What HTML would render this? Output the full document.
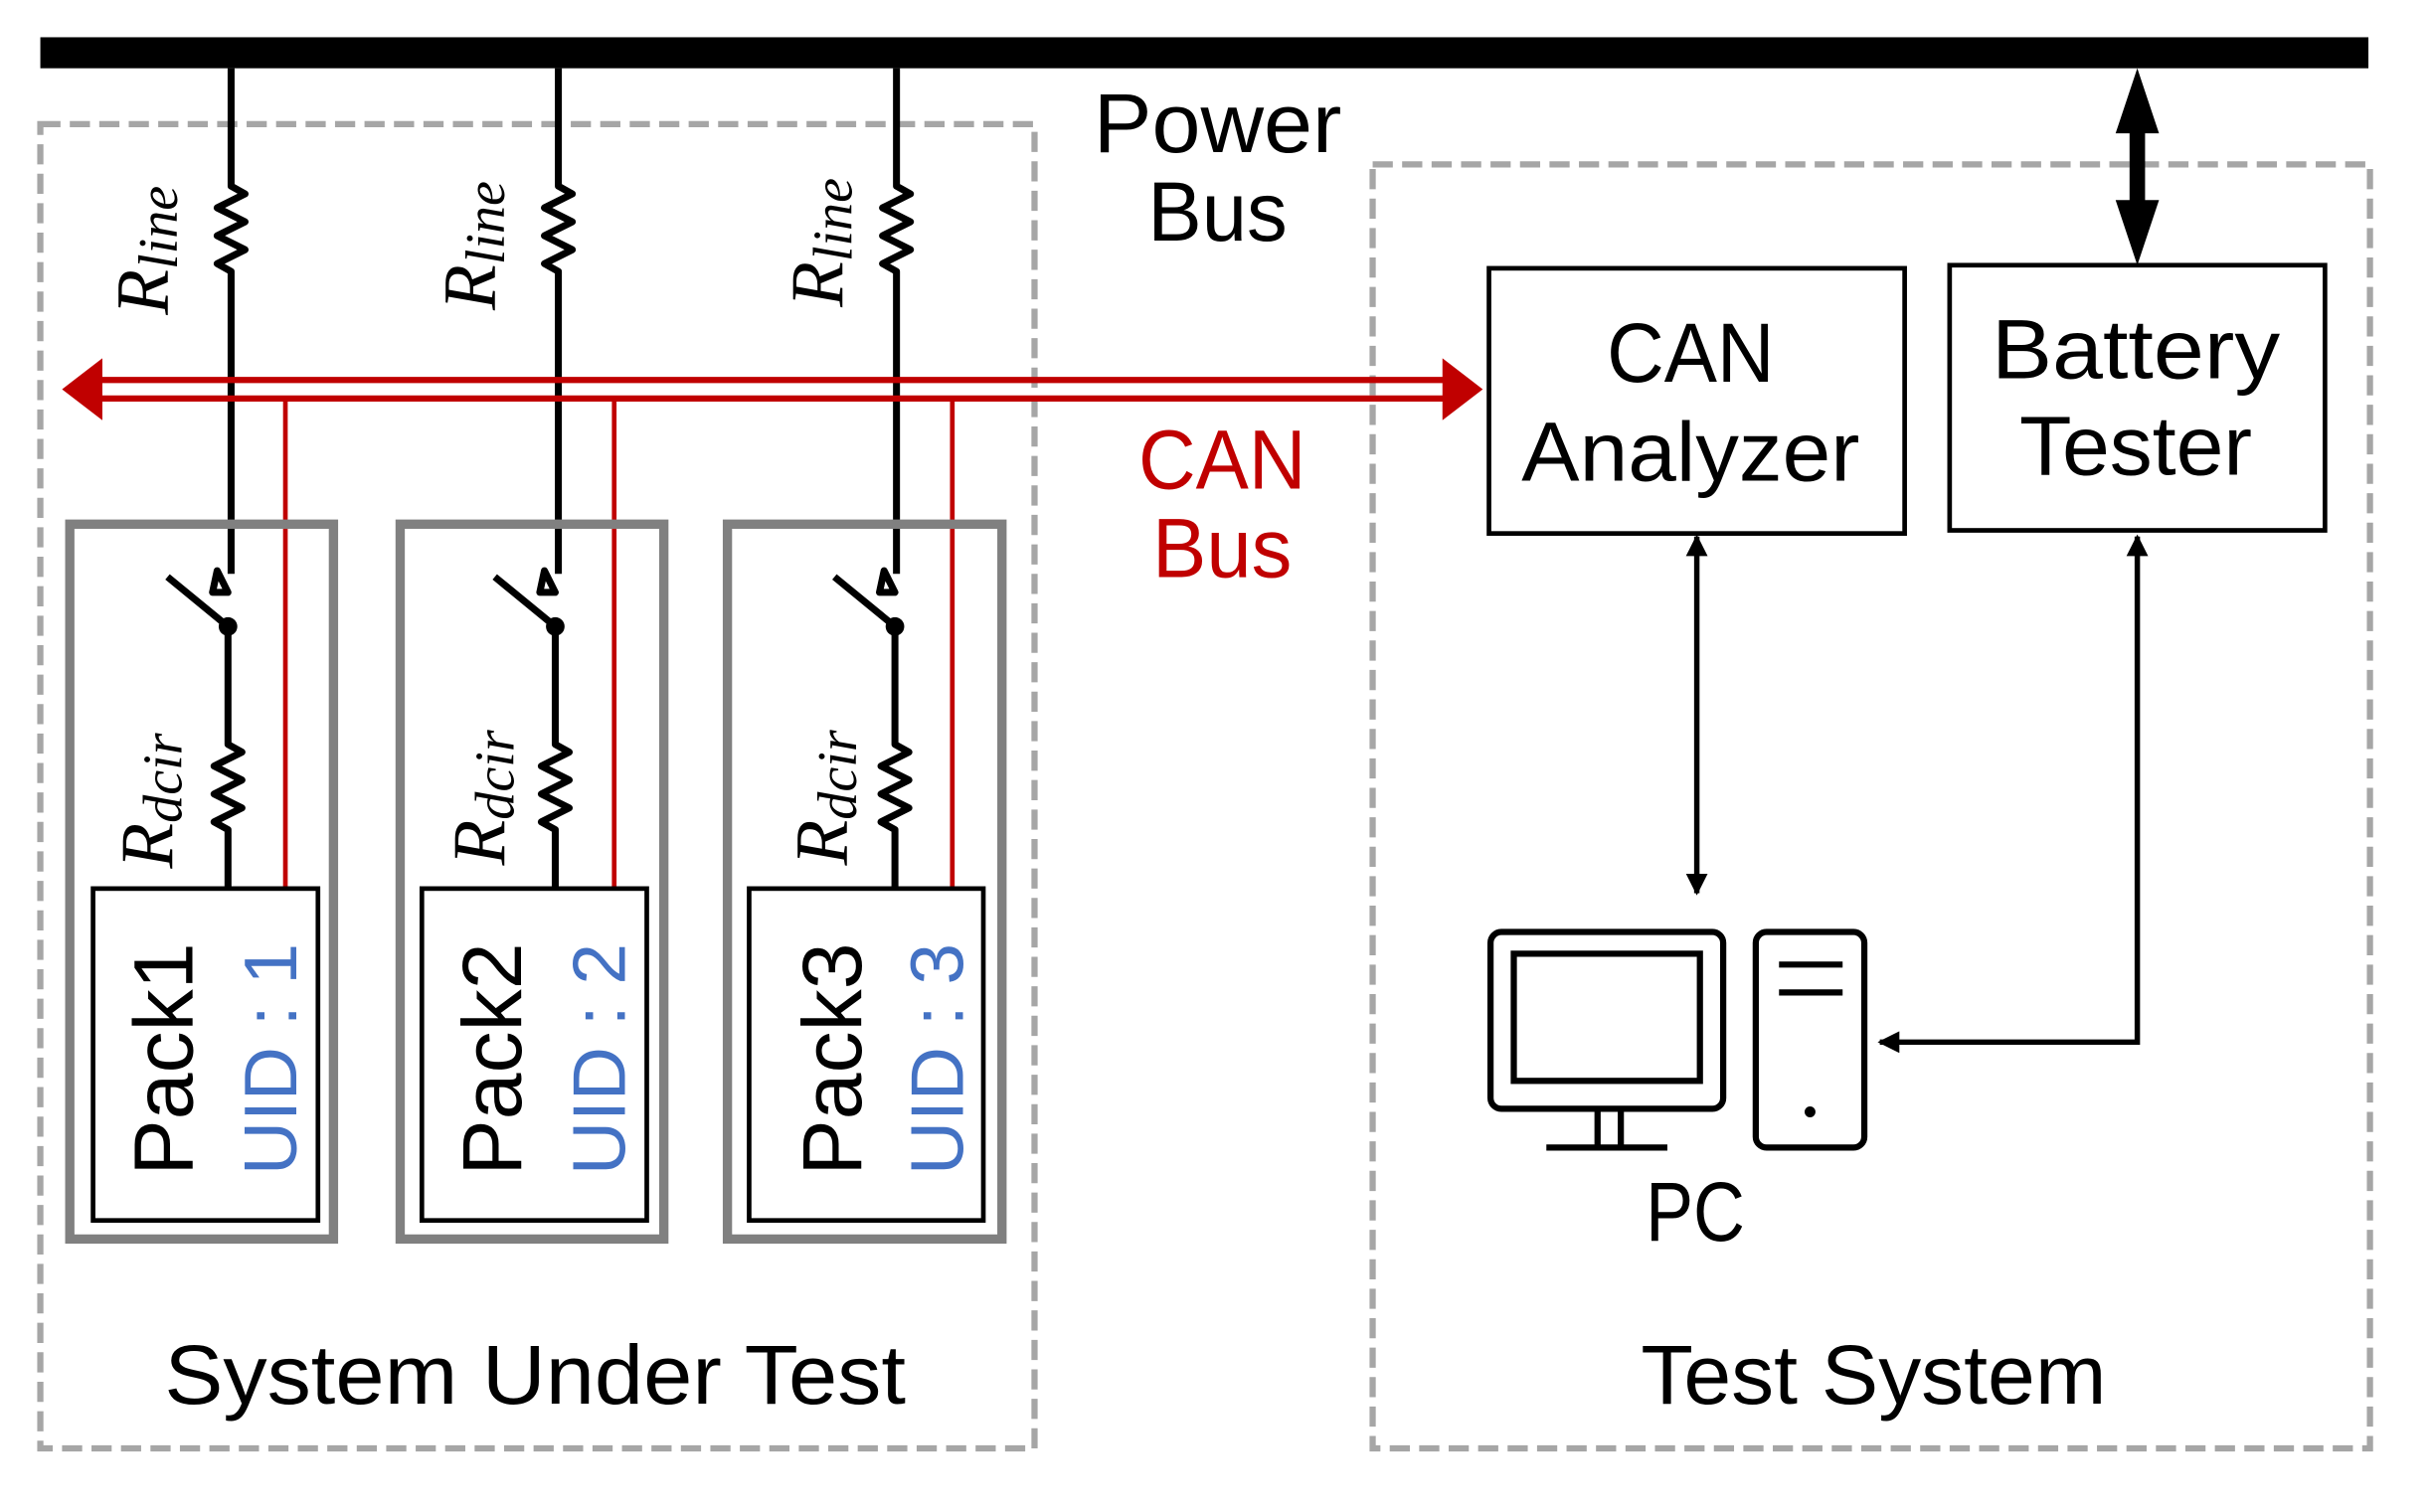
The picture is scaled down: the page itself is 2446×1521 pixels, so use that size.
<!DOCTYPE html>
<html><head><meta charset="utf-8"><style>html,body{margin:0;padding:0;background:#fff}svg{display:block}</style></head>
<body>
<svg width="2446" height="1521" viewBox="0 0 1568 975" xmlns="http://www.w3.org/2000/svg" font-family="Liberation Sans, sans-serif">
<defs>
<marker id="ah" viewBox="0 0 10 10" refX="9" refY="5" markerWidth="14" markerHeight="14" orient="auto-start-reverse" markerUnits="userSpaceOnUse"><path d="M0,0L10,5L0,10z" fill="#000"/></marker>
</defs>
<rect x="26" y="24" width="1501" height="20" fill="#000"/>
<rect x="26" y="80" width="641" height="854" fill="none" stroke="#a6a6a6" stroke-width="4" stroke-dasharray="13,6"/>
<rect x="885" y="106" width="643" height="828" fill="none" stroke="#a6a6a6" stroke-width="4" stroke-dasharray="13,6"/>
<g font-size="54" text-anchor="middle">
<text x="785" y="98" textLength="160" lengthAdjust="spacingAndGlyphs">Power</text>
<text x="785" y="155" textLength="90" lengthAdjust="spacingAndGlyphs">Bus</text>
<text x="788" y="315" fill="#c00000" textLength="108" lengthAdjust="spacingAndGlyphs">CAN</text>
<text x="788" y="372" fill="#c00000" textLength="90" lengthAdjust="spacingAndGlyphs">Bus</text>
<text x="1090" y="246" textLength="108" lengthAdjust="spacingAndGlyphs">CAN</text>
<text x="1090" y="310" textLength="218" lengthAdjust="spacingAndGlyphs">Analyzer</text>
<text x="1377" y="244" textLength="186" lengthAdjust="spacingAndGlyphs">Battery</text>
<text x="1377" y="306" textLength="150" lengthAdjust="spacingAndGlyphs">Tester</text>
<text x="1093" y="800" textLength="64" lengthAdjust="spacingAndGlyphs">PC</text>
<text x="345" y="905" textLength="478" lengthAdjust="spacingAndGlyphs">System Under Test</text>
<text x="1208" y="905" textLength="300" lengthAdjust="spacingAndGlyphs">Test System</text>
</g>
<g fill="none" stroke="#000" stroke-width="4.5" stroke-linejoin="round">
<path d="M149,44V120 l9,5 -18,9 18,9 -18,9 18,9 -18,9 9,5 V370"/>
<path d="M360,44V120 l9,5 -18,9 18,9 -18,9 18,9 -18,9 9,5 V370"/>
<path d="M578,44V120 l9,5 -18,9 18,9 -18,9 18,9 -18,9 9,5 V370"/>
<path d="M147,404V480 l9,5 -18,9 18,9 -18,9 18,9 -18,9 9,5 V573"/>
<path d="M358,404V480 l9,5 -18,9 18,9 -18,9 18,9 -18,9 9,5 V573"/>
<path d="M577,404V480 l9,5 -18,9 18,9 -18,9 18,9 -18,9 9,5 V573"/>
<path d="M108,372L147,404M140,368l7,14h-10z"/>
<path d="M319,372L358,404M351,368l7,14h-10z"/>
<path d="M538,372L577,404M570,368l7,14h-10z"/>
</g>
<circle cx="147" cy="404" r="6"/><circle cx="358" cy="404" r="6"/><circle cx="577" cy="404" r="6"/>
<g font-family="Liberation Serif, serif" font-style="italic" font-size="48">
<text transform="translate(108,203) rotate(-90)">R<tspan font-size="36" dy="6">line</tspan></text>
<text transform="translate(319,200) rotate(-90)">R<tspan font-size="36" dy="6">line</tspan></text>
<text transform="translate(543,198) rotate(-90)">R<tspan font-size="36" dy="6">line</tspan></text>
<text transform="translate(111,560) rotate(-90)">R<tspan font-size="36" dy="6">dcir</tspan></text>
<text transform="translate(325,558) rotate(-90)">R<tspan font-size="36" dy="6">dcir</tspan></text>
<text transform="translate(546,558) rotate(-90)">R<tspan font-size="36" dy="6">dcir</tspan></text>
</g>
<g stroke="#c00000" fill="none">
<path d="M62,245H932M62,257H932" stroke-width="4"/>
<path d="M184,257V573M396,257V573M614,257V573" stroke-width="3"/>
</g>
<path d="M40,251L66,231V271z M956,251L930,231V271z" fill="#c00000"/>
<g fill="none" stroke="#808080" stroke-width="6">
<rect x="45" y="338" width="170" height="461"/><rect x="258" y="338" width="170" height="461"/><rect x="469" y="338" width="177" height="461"/>
</g>
<g fill="#fff" stroke="#000" stroke-width="3">
<rect x="60" y="573" width="145" height="214"/><rect x="272" y="573" width="145" height="214"/><rect x="483" y="573" width="151" height="214"/>
</g>
<g font-size="54" text-anchor="middle">
<text transform="translate(124,683) rotate(-90)">Pack1</text>
<text transform="translate(336,683) rotate(-90)">Pack2</text>
<text transform="translate(555,683) rotate(-90)">Pack3</text>
</g>
<g font-size="48" text-anchor="middle" fill="#4472c4">
<text transform="translate(191,683) rotate(-90)">UID : 1</text>
<text transform="translate(403,683) rotate(-90)">UID : 2</text>
<text transform="translate(621,683) rotate(-90)">UID : 3</text>
</g>
<rect x="960" y="173" width="268" height="171" fill="none" stroke="#000" stroke-width="3"/>
<rect x="1257" y="171" width="242" height="171" fill="none" stroke="#000" stroke-width="3"/>
<rect x="1373" y="70" width="10" height="76"/>
<path d="M1378,44L1392,86H1364z M1378,171L1392,129H1364z"/>
<path d="M1094,346V576" stroke="#000" stroke-width="3.5" fill="none" marker-start="url(#ah)" marker-end="url(#ah)"/>
<path d="M1378,346V672H1212" stroke="#000" stroke-width="3.5" fill="none" marker-start="url(#ah)" marker-end="url(#ah)"/>
<g fill="none" stroke="#000" stroke-width="4">
<rect x="961" y="601" width="150" height="114" rx="7"/>
<rect x="976" y="615" width="120" height="82"/>
<path d="M1030,716V739M1045,716V739M997,740H1075"/>
<rect x="1132" y="601" width="70" height="139" rx="7"/>
<path d="M1147,622H1188M1147,640H1188"/>
</g>
<circle cx="1167" cy="717" r="3.5"/>
</svg>
</body></html>
